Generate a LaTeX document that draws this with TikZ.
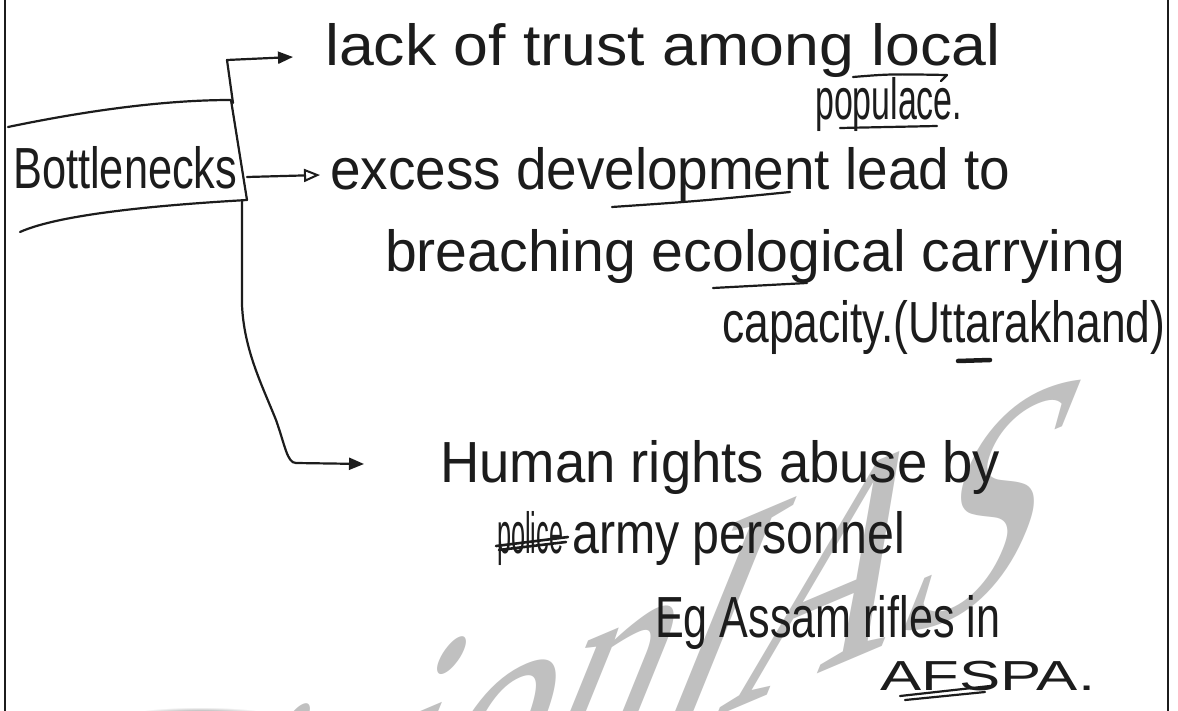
\documentclass[tikz,border=0pt]{standalone}
\usepackage{fontspec}
\setmainfont{Liberation Sans}
\newfontfamily\wmfont{Liberation Serif}
\usetikzlibrary{arrows.meta}
\definecolor{ink}{RGB}{28,28,28}
\definecolor{wmgray}{RGB}{192,192,192}
% stretch a line of text to a given width, keeping its height
\newcommand{\hwfit}[2]{\resizebox{#1pt}{\height}{#2}}
\begin{document}
\begin{tikzpicture}[x=1pt,y=-1pt,
  hw/.style={inner sep=0pt, anchor=base west, text=ink, font=\fontsize{58}{64}\selectfont},
  pen/.style={draw=ink, line width=2.2pt, line cap=round, line join=round},
  conn/.style={pen, -{Triangle[length=15pt,width=12pt]}},
  connopen/.style={pen, -{Triangle[open,length=16pt,width=13pt,line width=2pt]}},
  thick mark/.style={pen, line width=2.6pt}]
\fill[white] (0,0) rectangle (1178,711);
\useasboundingbox (0,0) rectangle (1178,711);
\clip (0,0) rectangle (1178,711);

% watermark
\node[inner sep=0pt, anchor=base west, text=wmgray,
      font=\wmfont\fontsize{255}{255}\selectfont,
      cm={0.92,0.39,0.544,1.344,(0,0)}] (wm) at (25,1010) {VisionIAS};
% shadow at the lower edge of the sheet
\shade[inner color=black!65, outer color=white] (200,716) ellipse [x radius=75pt, y radius=9pt];

% page margins
\draw[pen, line width=2.8pt] (5,0) -- (5,711);
\draw[pen, line width=2.4pt] (1168,0) -- (1168,711);

% the hand-drawn box around the heading
\coordinate (tl) at (8,127);
\coordinate (tr) at (231,100);
\coordinate (br) at (247,200);
\coordinate (bl) at (20,232);
\draw[pen] (tl) .. controls (80,112) and (160,100) .. (tr) -- (br);
\draw[pen] (br) .. controls (160,205) and (60,214) .. (bl);
\node[hw] (bn) at (13,189) {\hwfit{224}{Bottlenecks}};

% branch texts
\node[hw] (t1)  at (325,66)  {\hwfit{675}{lack of trust among local}};
\node[hw] (t1b) at (815,120) {\hwfit{147}{populace.}};
\node[hw] (t2)  at (330,190) {\hwfit{680}{excess development lead to}};
\node[hw] (t2b) at (385,272) {\hwfit{740}{breaching ecological carrying}};
\node[hw] (t2c) at (722,342) {\hwfit{443}{capacity.(Uttarakhand)}};
\node[hw] (t3)  at (440,482) {\hwfit{560}{Human rights abuse by}};
\node[hw] (t3b) at (497,553) {\hwfit{66}{police}};
\node[hw] (t3c) at (572,553) {\hwfit{333}{army personnel}};
\node[hw] (t3d) at (655,637) {\hwfit{345}{Eg Assam rifles in}};
\node[hw, font=\fontsize{42}{48}\selectfont] (t3e) at (880,690) {\hwfit{215}{AFSPA.}};

% connectors
\coordinate (s1) at (233,103);
\coordinate (e1) at (293,57);
\coordinate (s2) at (247,177);
\coordinate (e2) at (320,175);
\coordinate (s3) at (242,201);
\coordinate (e3) at (364,464);
\draw[conn] (s1) -- (227,60) -- (e1);
\draw[connopen] (s2) -- (e2);
\draw[conn] (s3) -- (242,305) .. controls (244,350) and (262,385) .. (276,420)
            .. controls (285,445) and (287,463) .. (296,463) -- (e3);

% underlines and corrections
\draw[pen] (853,77) .. controls (890,74) .. (947,75) -- (941,81);
\draw[pen] (840,128) -- (937,126);
\draw[pen] (612,207) .. controls (700,201) .. (790,192);
\draw[pen] (713,288) -- (807,283);
\draw[pen, line width=4.5pt] (958,361) -- (990,360);
\draw[pen] (900,696) -- (990,686);
\draw[pen] (905,700) -- (985,692);
\draw[thick mark] (496,546) -- (568,537);
\draw[thick mark] (499,550) -- (566,542);
\end{tikzpicture}
\end{document}
